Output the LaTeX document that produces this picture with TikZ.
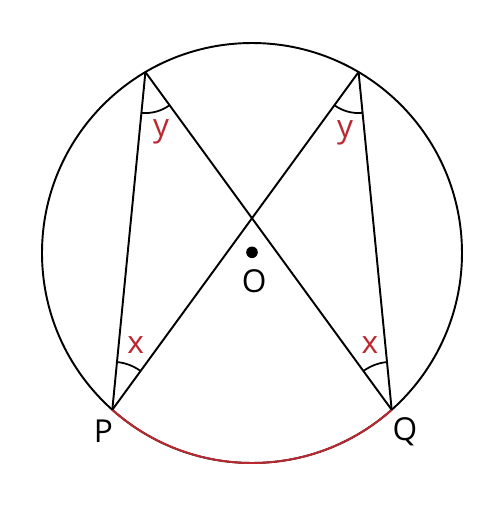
\documentclass[tikz,border=0pt]{standalone}
\usepackage{fontspec}
\setmainfont{Open Sans}
\usetikzlibrary{angles}
\definecolor{angred}{RGB}{188,40,48}
\tikzset{
  geo/.style={line width=1.1pt, black},
  lbl/.style={font=\fontsize{18}{21}\selectfont, inner sep=0pt},
  redlbl/.style={lbl, text=angred},
  angtop/.style={draw, line width=1pt, angle radius=0.82cm},
  angbot/.style={draw, line width=1pt, angle radius=0.96cm}
}
\begin{document}
\begin{tikzpicture}[x=0.02cm,y=0.02cm]
\useasboundingbox (-252,-252) rectangle (252,253);
\fill[white] (-252,-252) rectangle (252,253);
\coordinate (O) at (0,0);
\coordinate (A) at (120.5:210);
\coordinate (B) at (59.5:210);
\coordinate (P) at (228.3:210);
\coordinate (Q) at (311.7:210);
\draw[geo] (O) circle (210);
\draw[line width=1.1pt, angred] (228.3:210) arc[start angle=228.3, end angle=311.7, radius=210];
\draw[geo] (A) -- (P);
\draw[geo] (A) -- (Q);
\draw[geo] (B) -- (P);
\draw[geo] (B) -- (Q);
\pic[angtop] {angle = P--A--Q};
\pic[angtop] {angle = P--B--Q};
\pic[angbot] {angle = B--P--A};
\pic[angbot] {angle = B--Q--A};
\fill (0,0.7) circle (5.8);
\node[lbl] (lO) at (2.3,-28) {O};
\node[lbl] (lP) at (-148.7,-178.7) {P};
\node[lbl] (lQ) at (153,-178.7) {Q};
\node[redlbl] (y1) at (-91,121) {y};
\node[redlbl] (y2) at (93,120) {y};
\node[redlbl] (x1) at (-116.3,-92) {x};
\node[redlbl] (x2) at (118,-92) {x};
\end{tikzpicture}
\end{document}
